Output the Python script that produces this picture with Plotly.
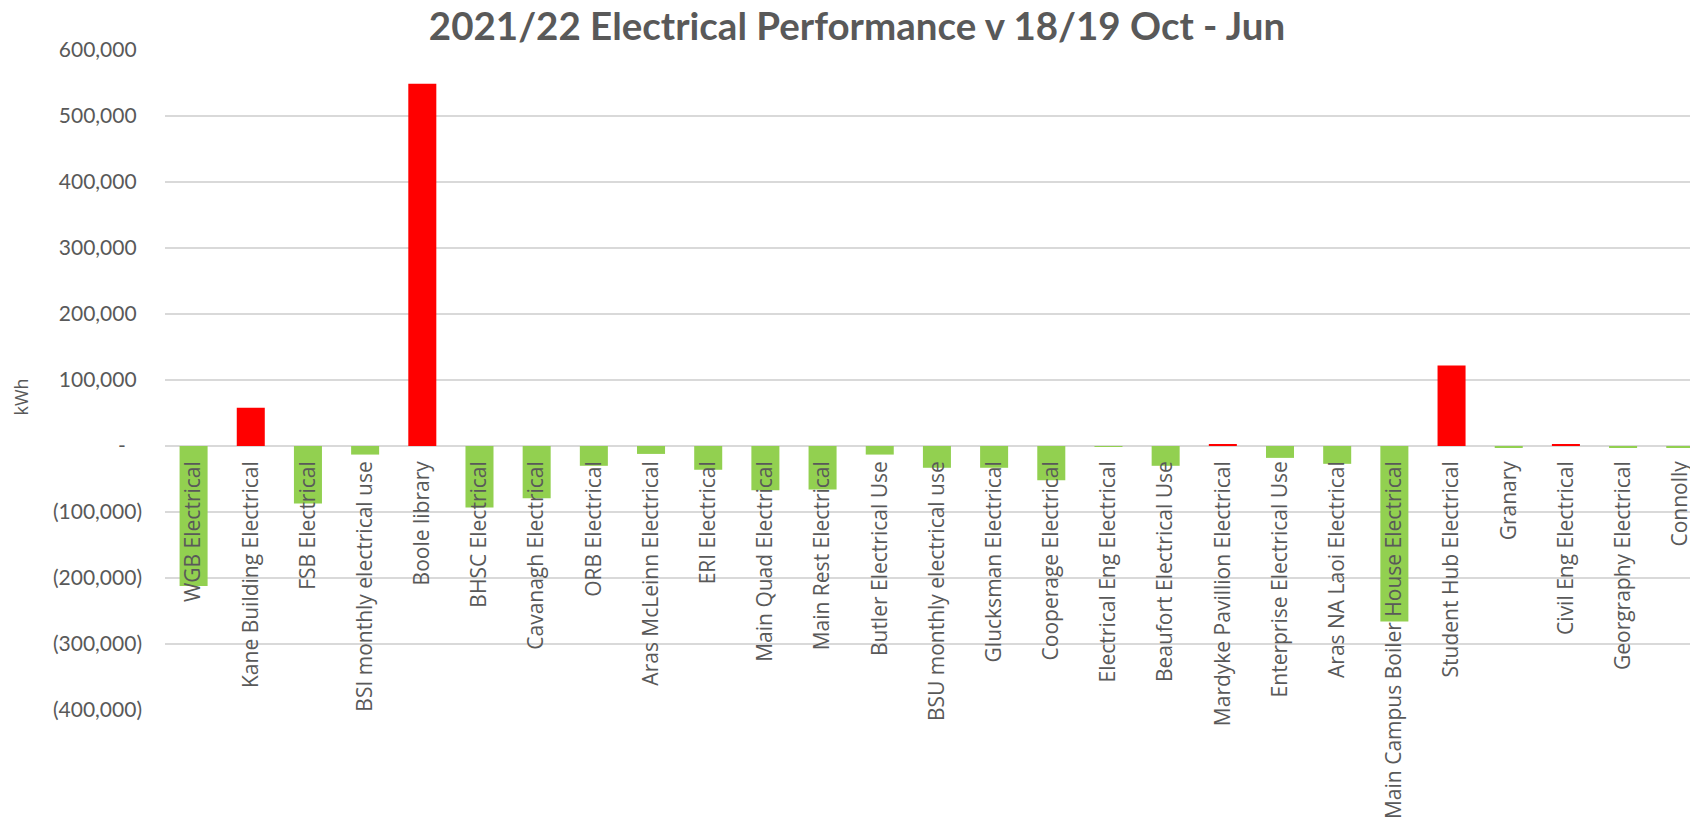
import plotly.graph_objects as go

categories = [
    "WGB Electrical", "Kane Building Electrical", "FSB Electrical",
    "BSI monthly electrical use", "Boole library", "BHSC Electrical",
    "Cavanagh Electrical", "ORB Electrical", "Aras McLeinn Electrical",
    "ERI Electrical", "Main Quad Electrical", "Main Rest Electrical",
    "Butler Electrical Use", "BSU monthly electrical use", "Glucksman Electrical",
    "Cooperage Electrical", "Electrical Eng Electrical", "Beaufort Electrical Use",
    "Mardyke Pavillion Electrical", "Enterprise Electrical Use",
    "Aras NA Laoi Electrical", "Main Campus Boiler House Electrical",
    "Student Hub Electrical", "Granary", "Civil Eng Electrical",
    "Georgraphy Electrical", "Connolly",
]
values_kwh = [
    -212000, 58000, -87000,
    -13000, 549000, -93000,
    -79000, -30000, -12000,
    -36000, -67000, -66000,
    -13000, -33000, -33000,
    -52000, -300, -30000,
    2500, -18000,
    -27000, -266000,
    122000, -2000, 3000,
    -2000, -2000,
]
ytick_vals = [600000, 500000, 400000, 300000, 200000, 100000, 0,
              -100000, -200000, -300000, -400000]
ytick_text = ["600,000", "500,000", "400,000", "300,000", "200,000", "100,000", "-",
              "(100,000)", "(200,000)", "(300,000)", "(400,000)"]

NB = "\u00a0"
ytick_text_fmt = []
for t in ytick_text:
    if t == "-":
        ytick_text_fmt.append("-" + NB * 3)
    elif t.startswith("("):
        ytick_text_fmt.append(t)
    else:
        ytick_text_fmt.append(t + NB)

RED = "#FF0000"
GREEN = "#92D050"
colors = [RED if v > 0 else GREEN for v in values_kwh]

W, H = 1690, 824
ML, MR, MT, MB = 165, 0, 50, 114
PW, PH = W - ML - MR, H - MT - MB
n_visible = PW / 57.18

fig = go.Figure()
fig.add_trace(go.Bar(
    x=categories, y=values_kwh, marker=dict(color=colors, line=dict(width=0)),
    width=0.49, xaxis="x", yaxis="y", showlegend=False,
))

zero_pos = (0 - (-400000)) / 1000000.0

fig.update_layout(
    width=W, height=H,
    margin=dict(l=ML, r=MR, t=MT, b=MB, autoexpand=False),
    paper_bgcolor="white", plot_bgcolor="white",
    title=dict(
        text="<b>2021/22 Electrical Performance v 18/19 Oct - Jun</b>",
        font=dict(family="Lato", size=38.5, color="#595959"),
        x=(857 - ML) / PW, xref="paper", xanchor="center",
        y=1 - 27 / H, yref="container", yanchor="middle",
    ),
    xaxis=dict(
        type="category", range=[-0.5, -0.5 + n_visible],
        anchor="free", position=zero_pos, automargin=False,
        showline=False, showgrid=False, ticks="",
        tickangle=-90, ticklabelstandoff=10, ticklabeloverflow="allow",
        tickfont=dict(family="Open Sans", size=21, color="#595959"),
    ),
    yaxis=dict(
        range=[-400000, 600000], automargin=False,
        tickvals=ytick_vals, ticktext=ytick_text_fmt,
        showgrid=True, gridcolor="#D9D9D9", gridwidth=2,
        zeroline=True, zerolinecolor="#D9D9D9", zerolinewidth=2,
        showline=False, ticks="", ticklabelstandoff=22,
        tickfont=dict(family="Lato", size=21, color="#595959"),
    ),
    annotations=[dict(
        text="kWh", textangle=-90, xref="paper", yref="paper",
        x=(20.5 - ML) / PW, y=(824 - MB - 397) / PH,
        xanchor="center", yanchor="middle", showarrow=False,
        font=dict(family="Open Sans", size=18, color="#595959"),
    )],
    bargap=0.5,
)

fig.write_html(
    "out.html",
    config={"displayModeBar": False},
    post_script="document.body.style.margin='0';document.body.style.overflow='hidden';",
)
